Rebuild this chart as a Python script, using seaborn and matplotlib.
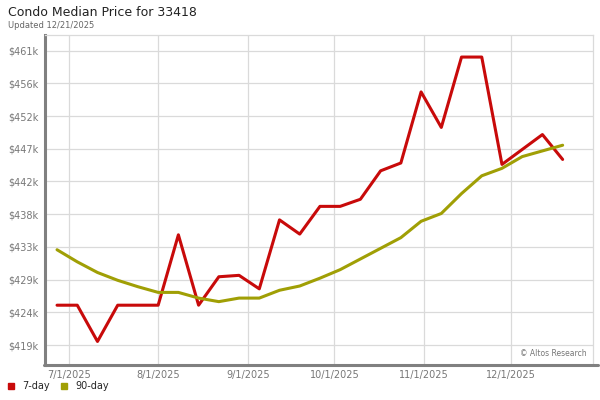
import numpy as np
import pandas as pd
import matplotlib
matplotlib.use("Agg")
import matplotlib.pyplot as plt
import matplotlib.dates as mdates
from matplotlib.lines import Line2D
import seaborn as sns

# ── Dados (preço mediano, em milhares de US$) ───────────────────────────────
datas = pd.date_range("2025-06-27", periods=26, freq="7D")

preco_7d = [425.0, 425.0, 419.9, 425.0, 425.0, 425.0, 434.9, 425.0, 429.0, 429.2,
            427.3, 437.0, 435.0, 438.9, 438.9, 439.9, 443.9, 445.0, 455.0, 450.0,
            459.9, 459.9, 444.8, 446.9, 449.0, 445.5]

preco_90d = [432.8, 431.1, 429.6, 428.5, 427.6, 426.8, 426.8, 426.0, 425.5, 426.0,
             426.0, 427.1, 427.7, 428.8, 430.0, 431.5, 433.0, 434.5, 436.8, 437.9,
             440.7, 443.2, 444.25, 445.9, 446.7, 447.5]

y_ticks = [419.4, 424.0, 428.6, 433.2, 437.8, 442.4, 447.0, 451.6, 456.2, 460.8]
y_labels = ["$419k", "$424k", "$429k", "$433k", "$438k",
            "$442k", "$447k", "$452k", "$456k", "$461k"]

x_ticks = pd.date_range("2025-07-01", "2025-12-01", freq="MS")

CORES = {"7-day": "#c80a0a", "90-day": "#a09f05"}

sns.set_theme(style="white")
plt.rcParams["font.family"] = ["DejaVu Sans"]

df = pd.concat([
    pd.DataFrame({"data": datas, "preco": preco_7d, "serie": "7-day"}),
    pd.DataFrame({"data": datas, "preco": preco_90d, "serie": "90-day"}),
])

fig = plt.figure(figsize=(6, 4), dpi=100)
fig.patch.set_facecolor("white")
ax = fig.add_axes([0.0758, 0.08875, 0.9125, 0.823])

sns.lineplot(data=df, x="data", y="preco", hue="serie", palette=CORES,
             linewidth=2.2, legend=False, ax=ax)

ax.set_xlim(pd.Timestamp("2025-06-23"), pd.Timestamp("2025-12-29 12:00"))
ax.set_ylim(416.66, 462.96)

ax.set_yticks(y_ticks)
ax.set_yticklabels(y_labels)
ax.set_xticks(x_ticks)
ax.xaxis.set_major_formatter(mdates.DateFormatter("%-m/%-d/%Y"))
ax.set_xlabel("")
ax.set_ylabel("")
ax.tick_params(axis="both", length=0, labelsize=7, labelcolor="#777777")
ax.tick_params(axis="y", pad=5)
ax.tick_params(axis="x", pad=4)

ax.grid(True, color="#dadada", linewidth=0.9)
ax.set_axisbelow(True)

for lado in ["top", "right"]:
    ax.spines[lado].set_color("#dadada")
    ax.spines[lado].set_linewidth(0.9)
ax.spines["left"].set_color("#808080")
ax.spines["left"].set_linewidth(2.2)
ax.spines["bottom"].set_visible(False)

# eixo inferior estendido (como no original)
fig.add_artist(Line2D([44 / 600, 598 / 600], [1 - 364.5 / 400] * 2,
                      transform=fig.transFigure, color="#808080", linewidth=2.2))

ax.text(0.989, 0.032, "\u00a9 Altos Research", transform=ax.transAxes,
        ha="right", va="center", fontsize=5.5, color="#777777")

fig.text(8 / 600, 1 - 6 / 400, "Condo Median Price for 33418",
         ha="left", va="top", fontsize=9, color="#222222")
fig.text(8 / 600, 1 - 20.5 / 400, "Updated 12/21/2025",
         ha="left", va="top", fontsize=6, color="#666666")

handles = [Line2D([], [], marker="s", linestyle="none", markersize=4.5,
                  color=CORES[k]) for k in CORES]
fig.legend(handles, list(CORES.keys()), loc="center left",
           bbox_to_anchor=(8 / 600, 1 - 386 / 400), ncol=2, frameon=False,
           fontsize=7, handlelength=0.6, handletextpad=0.85,
           columnspacing=1.15, borderpad=0, borderaxespad=0)

fig.savefig("out.png", dpi=100)
